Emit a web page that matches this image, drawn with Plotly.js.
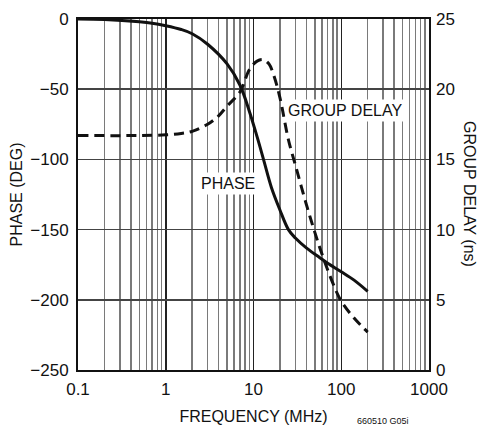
<!DOCTYPE html>
<html><head><meta charset="utf-8">
<script src="https://cdn.plot.ly/plotly-3.0.1.min.js"></script>
<style>body{margin:0;padding:0;background:#fff}#chart{width:486px;height:427px}</style>
</head><body><div id="chart"></div>
<script>
// Phase (deg) vs frequency (MHz)
const phaseFreq = [0.1, 0.2, 0.5, 0.7, 1, 1.5, 2, 3, 5, 7, 9, 11, 13, 16, 20, 25, 30, 40, 57, 70, 100, 140, 200];
const phaseDeg  = [0, -0.4, -2, -3, -4.8, -7.5, -10.5, -18, -32, -47, -66, -84, -100, -120, -136, -150, -156, -163, -170, -174, -180, -186, -194];
// Group delay (ns) vs frequency (MHz)
const delayFreq = [0.1, 0.5, 1, 1.5, 2, 3, 4, 5, 7, 9, 11, 13, 15, 17, 20, 25, 30, 40, 50, 60, 80, 100, 140, 200];
const delayNs   = [16.7, 16.7, 16.75, 16.85, 17.0, 17.5, 18.1, 18.8, 19.8, 21.4, 22.0, 22.1, 21.8, 21.0, 19.4, 16.4, 14.6, 11.8, 9.8, 8.3, 6.2, 4.9, 3.7, 2.7];
const xTickVals = [0.1, 1, 10, 100, 1000];
const xTickText = ['0.1', '1', '10', '100', '1000'];

const minorVals = [];
for (let e = -1; e < 3; e++) for (let m = 2; m <= 9; m++) minorVals.push(m * Math.pow(10, e));

const FONT = 'Liberation Sans Narrow, Arial Narrow, Liberation Sans, sans-serif';

const traces = [
  {x: phaseFreq, y: phaseDeg, type: 'scatter', mode: 'lines', line: {color: '#111', width: 3, shape: 'spline', smoothing: 1}, yaxis: 'y', hoverinfo: 'skip'},
  {x: delayFreq, y: delayNs, type: 'scatter', mode: 'lines', line: {color: '#111', width: 3, dash: '10px,6px', shape: 'spline', smoothing: 1}, yaxis: 'y2', hoverinfo: 'skip'}
];

const layout = {
  width: 486, height: 427,
  margin: {l: 78, r: 57, t: 19, b: 57},
  paper_bgcolor: '#fff', plot_bgcolor: '#fff',
  showlegend: false,
  font: {family: FONT, size: 16, color: '#111'},
  xaxis: {
    type: 'log', range: [-1, 3],
    tickmode: 'array', tickvals: xTickVals, ticktext: xTickText,
    showgrid: true, gridcolor: '#222', gridwidth: 1.5,
    minor: {tickmode: 'array', tickvals: minorVals, showgrid: true, gridcolor: '#7a7a7a', gridwidth: 1.5, ticks: ''},
    ticks: '', showline: true, mirror: true, linecolor: '#111', linewidth: 2,
    zeroline: false, ticklabelstandoff: 3,
    tickfont: {family: FONT, size: 17},
    title: {text: 'FREQUENCY (MHz)', font: {family: FONT, size: 16}, standoff: 12}
  },
  yaxis: {
    range: [-250, 0], dtick: 50, tick0: 0,
    showgrid: true, gridcolor: '#444', gridwidth: 1.5,
    ticks: '', showline: true, mirror: true, linecolor: '#111', linewidth: 2,
    zeroline: false, ticklabelstandoff: 4,
    tickfont: {family: FONT, size: 17},
    title: {text: 'PHASE (DEG)', font: {family: FONT, size: 16}, standoff: 4}
  },
  yaxis2: {
    range: [0, 25], dtick: 5, tick0: 0, overlaying: 'y', side: 'right',
    showgrid: false, ticks: '', zeroline: false, ticklabelstandoff: 6,
    tickfont: {family: FONT, size: 17}
  },
  annotations: [
    {xref: 'x', yref: 'y2', x: Math.log10(110), y: 18.5, text: 'GROUP DELAY', showarrow: false, bgcolor: '#fff', font: {family: FONT, size: 16}, borderpad: 2},
    {xref: 'x', yref: 'y', x: Math.log10(5.1), y: -117, text: 'PHASE', showarrow: false, bgcolor: '#fff', font: {family: FONT, size: 16}, borderpad: 2},
    {xref: 'paper', yref: 'paper', x: 1.145, y: 0.5, text: 'GROUP DELAY (ns)', textangle: 90, showarrow: false, font: {family: FONT, size: 16}},
    {xref: 'paper', yref: 'paper', x: 0.949, y: -0.145, yanchor: 'middle', text: '660510 G05i', showarrow: false, font: {family: FONT, size: 9}}
  ]
};

Plotly.newPlot('chart', traces, layout, {staticPlot: true, displayModeBar: false});
</script></body></html>
